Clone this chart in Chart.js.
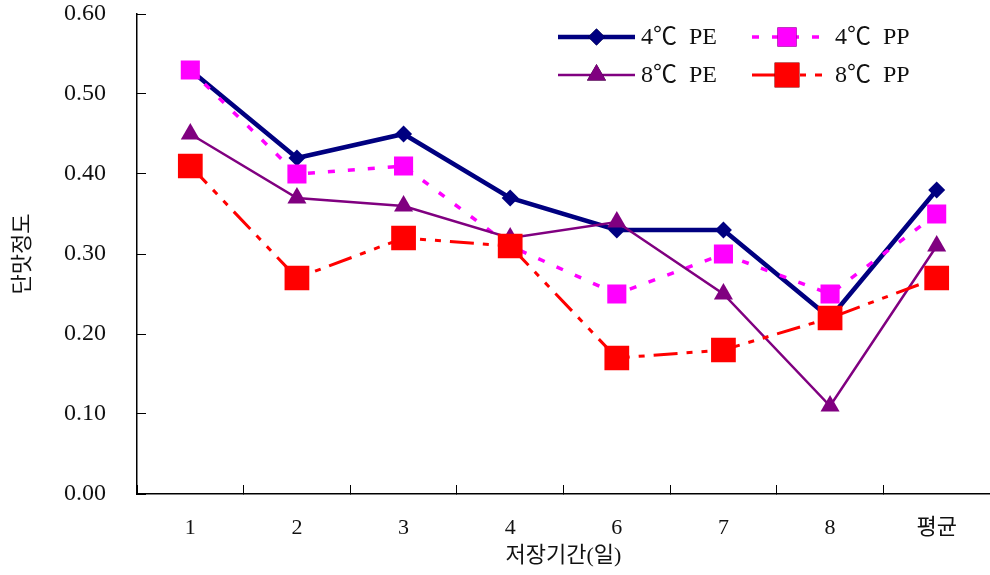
<!DOCTYPE html>
<html>
<head>
<meta charset="utf-8">
<script src="https://cdn.jsdelivr.net/npm/chart.js@4.4.0/dist/chart.umd.min.js"></script>
<style>
  body { margin: 0; background: #fff; }
  canvas { display: block; }
</style>
</head>
<body>
<canvas id="sweetChart" width="990" height="575"></canvas>
<script>
// storage days and sweetness scores
const days = ['1', '2', '3', '4', '6', '7', '8', '평균'];
const pe4 = [0.53, 0.42, 0.45, 0.37, 0.33, 0.33, 0.22, 0.38];
const pp4 = [0.53, 0.40, 0.41, 0.31, 0.25, 0.30, 0.25, 0.35];
const pe8 = [0.45, 0.37, 0.36, 0.32, 0.34, 0.25, 0.11, 0.31];
const pp8 = [0.41, 0.27, 0.32, 0.31, 0.17, 0.18, 0.22, 0.27];
const yTicks = [0, 0.1, 0.2, 0.3, 0.4, 0.5, 0.6];

const serif = "'Liberation Serif', 'Noto Sans CJK KR', serif";

// legend drawn inside the plot, two columns like the original
const insideLegend = {
  id: 'insideLegend',
  afterDraw(chart) {
    const ctx = chart.ctx;
    const cols = [558, 752];
    const rows = [37, 75];
    const lineLen = [77, 70];
    const textX = [641, 835];
    chart.data.datasets.forEach((ds, i) => {
      const c = i % 2, r = Math.floor(i / 2);
      const x0 = cols[c], y = rows[r];
      ctx.save();
      ctx.strokeStyle = ds.borderColor;
      ctx.lineWidth = ds.borderWidth;
      ctx.setLineDash(ds.borderDash || []);
      ctx.beginPath();
      ctx.moveTo(x0, y);
      ctx.lineTo(x0 + lineLen[c], y);
      ctx.stroke();
      ctx.setLineDash([]);
      Chart.helpers.drawPoint(ctx, {
        pointStyle: ds.pointStyle,
        radius: ds.pointRadius,
        borderWidth: 0,
        rotation: 0
      }, x0 + lineLen[c] / 2, y);
      ctx.fillStyle = ds.pointBackgroundColor;
      ctx.fill();
      ctx.fillStyle = '#111';
      ctx.font = '24px ' + serif;
      ctx.textBaseline = 'middle';
      ctx.fillText(ds.label.replace(' ', '  '), textX[c], y + 1);
      ctx.restore();
    });
  }
};

const ctx = document.getElementById('sweetChart').getContext('2d');
new Chart(ctx, {
  type: 'line',
  data: {
    labels: days,
    datasets: [
      {
        label: '4℃ PE', data: pe4, order: 4,
        borderColor: '#000080', borderWidth: 4.5,
        pointStyle: 'rectRot', pointRadius: 8.5,
        pointBackgroundColor: '#000080', pointBorderWidth: 0
      },
      {
        label: '4℃ PP', data: pp4, order: 3,
        borderColor: '#ff00ff', borderWidth: 3.5, borderDash: [7, 13],
        pointStyle: 'rect', pointRadius: 13.5,
        pointBackgroundColor: '#ff00ff', pointBorderWidth: 0
      },
      {
        label: '8℃ PE', data: pe8, order: 2,
        borderColor: '#800080', borderWidth: 2.5,
        pointStyle: 'triangle', pointRadius: 11,
        pointBackgroundColor: '#800080', pointBorderWidth: 0
      },
      {
        label: '8℃ PP', data: pp8, order: 1,
        borderColor: '#ff0000', borderWidth: 3, borderDash: [24, 9, 6, 9, 6, 9],
        pointStyle: 'rect', pointRadius: 17.5,
        pointBackgroundColor: '#ff0000', pointBorderWidth: 0
      }
    ]
  },
  options: {
    responsive: false,
    animation: false,
    layout: { autoPadding: false, padding: { top: 14, right: 0, left: 0, bottom: 0 } },
    plugins: {
      legend: { display: false },
      tooltip: { enabled: false }
    },
    elements: { line: { tension: 0, fill: false } },
    scales: {
      x: {
        offset: true,
        grid: {
          offset: true, drawOnChartArea: false, tickLength: -9,
          color: '#000', tickColor: '#000'
        },
        border: { color: '#000', width: 1.5 },
        ticks: { color: '#111', font: { family: serif, size: 22 }, padding: 30 },
        title: {
          display: true, text: '저장기간(일)', color: '#111',
          font: { family: serif, size: 22 }, padding: { top: 0, bottom: 6 }
        },
        afterFit(s) {
          s.height = 81;
          s.paddingLeft = 0;
          s.paddingRight = 0;
        }
      },
      y: {
        min: 0, max: 0.6,
        afterBuildTicks(s) { s.ticks = yTicks.map(v => ({ value: v })); },
        grid: {
          drawOnChartArea: false, tickLength: -9,
          color: '#000', tickColor: '#000'
        },
        border: { color: '#000', width: 1.5 },
        ticks: {
          color: '#111', font: { family: serif, size: 24 }, padding: 40,
          callback: v => v.toFixed(2)
        },
        title: {
          display: true, text: '단맛정도', color: '#111',
          font: { family: serif, size: 22 }, padding: { top: 10, bottom: 0 }
        },
        afterFit(s) {
          s.width = 137;
          s.paddingTop = 0;
          s.paddingBottom = 0;
        }
      }
    }
  },
  plugins: [insideLegend]
});
</script>
</body>
</html>
